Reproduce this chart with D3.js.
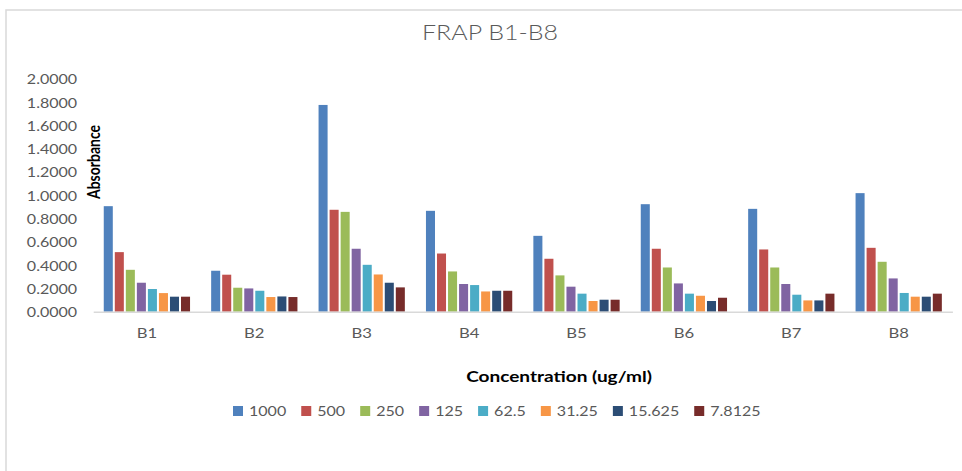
<!DOCTYPE html>
<html>
<head>
<meta charset="utf-8">
<script src="https://cdn.jsdelivr.net/npm/d3@7"></script>
<style>
  body { margin: 0; background: #fff; }
  svg { display: block; }
</style>
</head>
<body>
<svg id="chart" width="962" height="471"></svg>
<script>
// FRAP absorbance per extract (B1–B8) at eight concentrations (ug/ml)
const categories = ["B1", "B2", "B3", "B4", "B5", "B6", "B7", "B8"];
const seriesNames = ["1000", "500", "250", "125", "62.5", "31.25", "15.625", "7.8125"];

const s1000   = [0.907, 0.352, 1.777, 0.867, 0.652, 0.924, 0.884, 1.019];
const s500    = [0.512, 0.318, 0.876, 0.500, 0.455, 0.541, 0.535, 0.549];
const s250    = [0.360, 0.206, 0.858, 0.346, 0.312, 0.380, 0.380, 0.429];
const s125    = [0.249, 0.200, 0.541, 0.238, 0.215, 0.243, 0.238, 0.286];
const s62_5   = [0.195, 0.180, 0.403, 0.229, 0.155, 0.155, 0.146, 0.161];
const s31_25  = [0.160, 0.126, 0.320, 0.174, 0.092, 0.137, 0.097, 0.129];
const s15_625 = [0.129, 0.131, 0.249, 0.180, 0.103, 0.092, 0.097, 0.129];
const s7_8125 = [0.129, 0.126, 0.209, 0.180, 0.103, 0.120, 0.155, 0.155];

const yTicks = [0, 0.2, 0.4, 0.6, 0.8, 1.0, 1.2, 1.4, 1.6, 1.8, 2.0];

const seriesValues = [s1000, s500, s250, s125, s62_5, s31_25, s15_625, s7_8125];
const colors = ["#4F81BD", "#C0504D", "#9BBB59", "#8064A2", "#4BACC6", "#F79646", "#2C4D75", "#772C2A"];

// Layout
const plot = { left: 93.2, right: 952.4, top: 79, bottom: 311.7 };
const SX = 1.19;            // horizontal text widening
const FONT = "Lato, 'Open Sans', sans-serif";
const GRAY = "#595959";

const svg = d3.select("#chart");

// Chart area frame
svg.append("rect")
  .attr("x", 6).attr("y", 10)
  .attr("width", 1000).attr("height", 500)
  .attr("fill", "#fff")
  .attr("stroke", "#d9d9d9")
  .attr("stroke-width", 1.5);

// Scales
const x0 = d3.scaleBand()
  .domain(categories)
  .range([plot.left, plot.right])
  .paddingInner(0.178)
  .paddingOuter(0.089);

const x1 = d3.scaleBand()
  .domain(seriesNames)
  .range([0, x0.bandwidth()]);

const y = d3.scaleLinear()
  .domain([0, 2])
  .range([plot.bottom, plot.top]);

// Bars
const groups = svg.append("g").selectAll("g")
  .data(categories)
  .join("g")
  .attr("transform", d => `translate(${x0(d)},0)`);

groups.selectAll("rect")
  .data((c, i) => seriesNames.map((s, k) => ({ s, k, v: seriesValues[k][i] })))
  .join("rect")
  .attr("x", d => x1(d.s) + 1)
  .attr("width", x1.bandwidth() - 2)
  .attr("y", d => y(d.v))
  .attr("height", d => y(0) - y(d.v))
  .attr("fill", d => colors[d.k]);

// Y axis (labels only)
const yAxis = svg.append("g")
  .attr("transform", `translate(${plot.left},0)`)
  .call(d3.axisLeft(y).tickValues(yTicks).tickFormat(d3.format(".4f")).tickSize(0));
yAxis.select(".domain").remove();
yAxis.selectAll("text")
  .attr("x", null)
  .attr("dy", "0.36em")
  .attr("transform", `translate(-16,0) scale(${SX},1)`)
  .attr("text-anchor", "end")
  .style("font-family", FONT)
  .style("font-size", "13.5px")
  .style("fill", GRAY);

// X axis
const xAxis = svg.append("g")
  .attr("transform", `translate(0,${plot.bottom})`)
  .call(d3.axisBottom(x0).tickSize(0).tickSizeOuter(0));
xAxis.select(".domain")
  .attr("stroke", "#d9d9d9")
  .attr("stroke-width", 1.5);
xAxis.selectAll("text")
  .attr("y", null)
  .attr("dy", null)
  .attr("transform", `translate(0,26.5) scale(${SX},1)`)
  .style("font-family", FONT)
  .style("font-size", "14px")
  .style("fill", GRAY);

// Title
svg.append("text")
  .attr("transform", `translate(490,40) scale(${SX},1)`)
  .attr("text-anchor", "middle")
  .style("font-family", FONT)
  .style("font-weight", 300)
  .style("font-size", "21px")
  .style("fill", GRAY)
  .text("FRAP B1-B8");

// Axis titles
svg.append("text")
  .attr("transform", `translate(100,162) scale(${SX},1) rotate(-90)`)
  .attr("text-anchor", "middle")
  .style("font-family", FONT)
  .style("font-weight", 700)
  .style("font-size", "14px")
  .style("fill", "#000")
  .text("Absorbance");

svg.append("text")
  .attr("transform", `translate(559,381.7) scale(${SX},1)`)
  .attr("text-anchor", "middle")
  .style("font-family", FONT)
  .style("font-weight", 700)
  .style("font-size", "16px")
  .style("fill", "#000")
  .text("Concentration (ug/ml)");

// Legend
const legend = svg.append("g");
let lx = 233;
const ly = 411;
seriesNames.forEach((name, k) => {
  legend.append("rect")
    .attr("x", lx).attr("y", ly - 5)
    .attr("width", 10).attr("height", 10)
    .attr("fill", colors[k]);
  const t = legend.append("text")
    .attr("transform", `translate(${lx + 16},${ly + 5}) scale(${SX},1)`)
    .style("font-family", FONT)
    .style("font-size", "13.5px")
    .style("fill", GRAY)
    .text(name);
  const w = t.node().getComputedTextLength() * SX;
  lx += 16 + w + 15;
});
</script>
</body>
</html>
